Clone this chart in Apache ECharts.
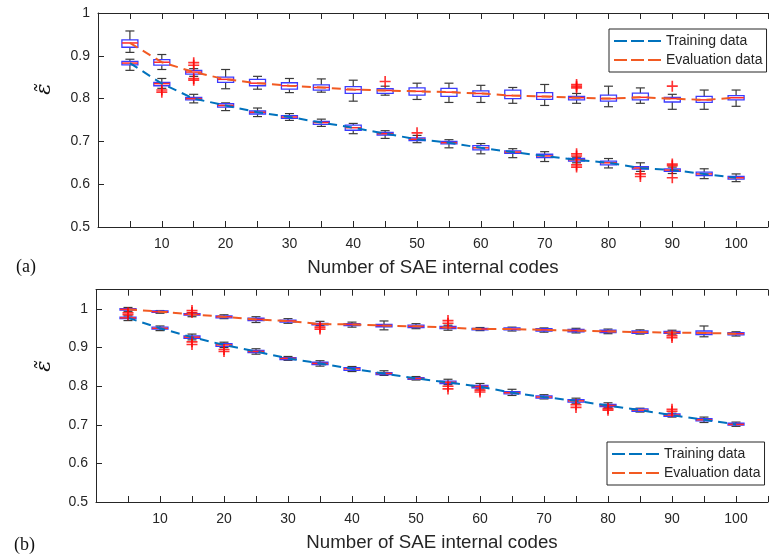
<!DOCTYPE html>
<html>
<head>
<meta charset="utf-8">
<script src="https://cdn.jsdelivr.net/npm/echarts@6/dist/echarts.min.js"></script>
<style>
  html, body { margin: 0; padding: 0; background: #fff; }
  #chart { width: 771px; height: 558px; }
</style>
</head>
<body>
<div id="chart"></div>
<script>
// Number of SAE internal codes (box positions)
const codes = [5, 10, 15, 20, 25, 30, 35, 40, 45, 50, 55, 60, 65, 70, 75, 80, 85, 90, 95, 100];
const xTickLabels = ['10', '20', '30', '40', '50', '60', '70', '80', '90', '100'];
const yTickLabels = ['0.5', '0.6', '0.7', '0.8', '0.9', '1'];

// ---- Panel (a): training data box statistics ----
const trainA_low = [0.866, 0.824, 0.790, 0.772, 0.758, 0.749, 0.735, 0.718, 0.707, 0.697, 0.685, 0.671, 0.662, 0.653, 0.650, 0.638, 0.630, 0.625, 0.613, 0.606];
const trainA_q1  = [0.879, 0.830, 0.797, 0.780, 0.764, 0.754, 0.740, 0.726, 0.715, 0.702, 0.694, 0.680, 0.672, 0.662, 0.654, 0.645, 0.635, 0.630, 0.620, 0.612];
const trainA_med = [0.883, 0.835, 0.800, 0.784, 0.768, 0.757, 0.744, 0.732, 0.718, 0.705, 0.697, 0.685, 0.675, 0.666, 0.657, 0.650, 0.638, 0.633, 0.624, 0.615];
const trainA_q3  = [0.887, 0.838, 0.803, 0.788, 0.771, 0.760, 0.747, 0.738, 0.721, 0.708, 0.700, 0.690, 0.678, 0.670, 0.660, 0.654, 0.641, 0.636, 0.628, 0.618];
const trainA_high= [0.892, 0.847, 0.810, 0.790, 0.778, 0.765, 0.752, 0.742, 0.725, 0.714, 0.704, 0.695, 0.683, 0.676, 0.663, 0.660, 0.650, 0.640, 0.636, 0.624];
const trainA_out = [[10, 0.820], [10, 0.815], [50, 0.720], [75, 0.671], [75, 0.666], [75, 0.645], [75, 0.640], [85, 0.624], [85, 0.618], [90, 0.647], [90, 0.643], [90, 0.615]];

// ---- Panel (a): evaluation data box statistics ----
const evalA_low = [0.908, 0.868, 0.852, 0.823, 0.822, 0.814, 0.815, 0.794, 0.808, 0.798, 0.791, 0.791, 0.789, 0.784, 0.789, 0.781, 0.789, 0.775, 0.775, 0.782];
const evalA_q1  = [0.920, 0.878, 0.857, 0.838, 0.830, 0.822, 0.820, 0.812, 0.812, 0.808, 0.805, 0.805, 0.800, 0.798, 0.797, 0.794, 0.797, 0.792, 0.791, 0.797];
const evalA_med = [0.930, 0.885, 0.862, 0.845, 0.836, 0.830, 0.826, 0.821, 0.819, 0.817, 0.815, 0.812, 0.807, 0.805, 0.802, 0.800, 0.803, 0.800, 0.797, 0.802];
const evalA_q3  = [0.937, 0.891, 0.866, 0.850, 0.845, 0.837, 0.832, 0.828, 0.823, 0.825, 0.824, 0.818, 0.820, 0.814, 0.805, 0.808, 0.813, 0.803, 0.805, 0.807];
const evalA_high= [0.958, 0.903, 0.870, 0.868, 0.852, 0.847, 0.846, 0.843, 0.829, 0.836, 0.836, 0.831, 0.826, 0.833, 0.812, 0.829, 0.825, 0.810, 0.820, 0.820];
const evalA_out = [[15, 0.884], [15, 0.878], [15, 0.847], [15, 0.843], [45, 0.840], [75, 0.833], [75, 0.829], [75, 0.825], [90, 0.829]];

// ---- Panel (b): training data box statistics ----
const trainB_low = [0.970, 0.944, 0.920, 0.900, 0.883, 0.867, 0.852, 0.838, 0.828, 0.816, 0.804, 0.793, 0.776, 0.767, 0.756, 0.744, 0.733, 0.720, 0.706, 0.696];
const trainB_q1  = [0.975, 0.948, 0.924, 0.903, 0.887, 0.869, 0.856, 0.841, 0.830, 0.818, 0.807, 0.796, 0.780, 0.769, 0.759, 0.747, 0.735, 0.722, 0.710, 0.699];
const trainB_med = [0.977, 0.950, 0.927, 0.907, 0.890, 0.872, 0.859, 0.845, 0.833, 0.820, 0.810, 0.799, 0.783, 0.772, 0.762, 0.750, 0.738, 0.725, 0.713, 0.701];
const trainB_q3  = [0.979, 0.953, 0.930, 0.910, 0.893, 0.874, 0.862, 0.848, 0.835, 0.822, 0.813, 0.802, 0.786, 0.775, 0.765, 0.753, 0.741, 0.728, 0.716, 0.704];
const trainB_high= [0.982, 0.956, 0.935, 0.914, 0.897, 0.877, 0.866, 0.851, 0.840, 0.825, 0.818, 0.807, 0.792, 0.778, 0.769, 0.757, 0.743, 0.730, 0.720, 0.707];
const trainB_out = [[15, 0.915], [15, 0.908], [20, 0.895], [20, 0.890], [55, 0.800], [55, 0.793], [60, 0.790], [60, 0.785], [75, 0.752], [75, 0.745], [80, 0.742], [80, 0.738], [90, 0.740], [90, 0.735]];

// ---- Panel (b): evaluation data box statistics ----
const evalB_low = [0.994, 0.989, 0.980, 0.975, 0.965, 0.963, 0.957, 0.953, 0.946, 0.949, 0.945, 0.944, 0.943, 0.940, 0.938, 0.936, 0.935, 0.935, 0.928, 0.930];
const evalB_q1  = [0.997, 0.991, 0.984, 0.977, 0.970, 0.966, 0.959, 0.957, 0.954, 0.952, 0.949, 0.946, 0.946, 0.943, 0.941, 0.939, 0.937, 0.937, 0.934, 0.933];
const evalB_med = [0.999, 0.993, 0.986, 0.980, 0.973, 0.969, 0.961, 0.960, 0.957, 0.955, 0.952, 0.948, 0.948, 0.946, 0.944, 0.942, 0.940, 0.939, 0.938, 0.936];
const evalB_q3  = [1.001, 0.995, 0.988, 0.982, 0.976, 0.971, 0.963, 0.962, 0.960, 0.958, 0.955, 0.950, 0.951, 0.949, 0.947, 0.945, 0.943, 0.942, 0.943, 0.939];
const evalB_high= [1.004, 0.996, 0.990, 0.985, 0.980, 0.975, 0.968, 0.966, 0.969, 0.962, 0.958, 0.952, 0.953, 0.951, 0.950, 0.948, 0.946, 0.945, 0.956, 0.941];
const evalB_out = [[5, 0.990], [5, 0.985], [15, 0.996], [15, 0.991], [35, 0.953], [35, 0.948], [55, 0.970], [55, 0.963], [90, 0.931], [90, 0.926]];

const TRAIN_COLOR = '#0072BD';
const EVAL_COLOR = '#F25A22';
const AXIS_COLOR = '#262626';
const FONT = 'Liberation Sans';

function boxRows(low, q1, med, q3, high) {
  return codes.map((c, i) => [c, low[i], q1[i], med[i], q3[i], high[i]]);
}
function medianLine(med) {
  return codes.map((c, i) => [c, med[i]]);
}

// Box-and-whisker glyph: dark whiskers with caps, blue box, red median
function renderBox(params, api) {
  const x = api.value(0);
  const lo = api.coord([x, api.value(1)]);
  const q1 = api.coord([x, api.value(2)]);
  const md = api.coord([x, api.value(3)]);
  const q3 = api.coord([x, api.value(4)]);
  const hi = api.coord([x, api.value(5)]);
  const cx = md[0];
  const hw = 8, cw = 4.5;
  const wStyle = { stroke: '#3a3a3a', lineWidth: 1.2 };
  return {
    type: 'group',
    children: [
      { type: 'line', shape: { x1: cx, y1: q3[1], x2: cx, y2: hi[1] }, style: wStyle },
      { type: 'line', shape: { x1: cx, y1: q1[1], x2: cx, y2: lo[1] }, style: wStyle },
      { type: 'line', shape: { x1: cx - cw, y1: hi[1], x2: cx + cw, y2: hi[1] }, style: wStyle },
      { type: 'line', shape: { x1: cx - cw, y1: lo[1], x2: cx + cw, y2: lo[1] }, style: wStyle },
      { type: 'rect', shape: { x: cx - hw, y: q3[1], width: 2 * hw, height: q1[1] - q3[1] },
        style: { fill: '#ffffff', stroke: '#3b3bff', lineWidth: 1.3 } },
      { type: 'line', shape: { x1: cx - hw, y1: md[1], x2: cx + hw, y2: md[1] },
        style: { stroke: '#ff2a2a', lineWidth: 1.5 } }
    ]
  };
}

const PLUS = 'path://M4.25,0H5.75V4.25H10V5.75H5.75V10H4.25V5.75H0V4.25H4.25Z';

function xAxes(gridIndex) {
  const base = {
    type: 'value', gridIndex, min: 0, max: 105, interval: 5,
    splitLine: { show: false },
    axisLine: { lineStyle: { color: AXIS_COLOR, width: 1 } },
    axisTick: { inside: true, length: 6, lineStyle: { color: AXIS_COLOR } }
  };
  return [
    Object.assign({}, base, {
      position: 'bottom',
      name: 'Number of SAE internal codes',
      nameLocation: 'middle', nameGap: 31,
      nameTextStyle: { fontFamily: FONT, fontSize: 18.7, color: AXIS_COLOR },
      axisLabel: {
        margin: 10, fontFamily: FONT, fontSize: 14, color: AXIS_COLOR,
        formatter: v => (xTickLabels.indexOf(String(v)) >= 0 ? String(v) : '')
      }
    }),
    Object.assign({}, base, { position: 'top', axisLabel: { show: false } })
  ];
}

function yAxis(gridIndex, max) {
  return {
    type: 'value', gridIndex, min: 0.5, max, interval: 0.1,
    splitLine: { show: false },
    axisLine: { lineStyle: { color: AXIS_COLOR, width: 1 } },
    axisTick: { inside: true, length: 6, lineStyle: { color: AXIS_COLOR } },
    axisLabel: {
      margin: 8, fontFamily: FONT, fontSize: 14, color: AXIS_COLOR, showMaxLabel: max <= 1,
      formatter: v => {
        const s = String(Math.round(v * 10) / 10);
        return yTickLabels.indexOf(s) >= 0 ? s : '';
      }
    }
  };
}

function panelSeries(xi, yi, trainBoxes, evalBoxes, trainMed, evalMed, trainOut, evalOut) {
  return [
    { type: 'custom', xAxisIndex: xi, yAxisIndex: yi, renderItem: renderBox, data: trainBoxes, z: 2,
      encode: { x: 0, y: [1, 2, 3, 4, 5] }, silent: true },
    { type: 'custom', xAxisIndex: xi, yAxisIndex: yi, renderItem: renderBox, data: evalBoxes, z: 2,
      encode: { x: 0, y: [1, 2, 3, 4, 5] }, silent: true },
    { name: 'Training data', type: 'line', xAxisIndex: xi, yAxisIndex: yi, data: trainMed, symbol: 'none', z: 3,
      color: TRAIN_COLOR, lineStyle: { color: TRAIN_COLOR, width: 2, type: [9, 6] } },
    { name: 'Evaluation data', type: 'line', xAxisIndex: xi, yAxisIndex: yi, data: evalMed, symbol: 'none', z: 3,
      color: EVAL_COLOR, lineStyle: { color: EVAL_COLOR, width: 2, type: [9, 6] } },
    { type: 'scatter', xAxisIndex: xi, yAxisIndex: yi, data: trainOut.concat(evalOut), symbol: PLUS,
      symbolSize: 11, itemStyle: { color: '#ff0000' }, z: 4, silent: true }
  ];
}

function legendAt(left, top) {
  return {
    left, top, orient: 'vertical', data: ['Training data', 'Evaluation data'],
    itemWidth: 47, itemHeight: 14, itemGap: 5,
    padding: [5, 4, 5, 4],
    itemStyle: { opacity: 0 },
    lineStyle: { width: 2, type: [13, 4] },
    backgroundColor: '#ffffff', borderColor: AXIS_COLOR, borderWidth: 1, borderRadius: 0,
    textStyle: { fontFamily: FONT, fontSize: 14, color: AXIS_COLOR },
    selectedMode: false
  };
}

const chart = echarts.init(document.getElementById('chart'), null, { renderer: 'canvas' });
chart.setOption({
  animation: false,
  backgroundColor: '#ffffff',
  grid: [
    { left: 98, top: 13, width: 682.5, height: 214 },
    { left: 96, top: 289.7, width: 682.5, height: 212.3 }
  ],
  xAxis: xAxes(0).concat(xAxes(1)),
  yAxis: [yAxis(0, 1), yAxis(1, 1.05)],
  legend: [legendAt(609, 29), legendAt(607, 442)],
  graphic: [
    { type: 'text', left: 16, top: 258, style: { text: '(a)', font: '18px "Liberation Serif"', fill: '#111' } },
    { type: 'text', left: 14, top: 536, style: { text: '(b)', font: '18px "Liberation Serif"', fill: '#111' } },
    { type: 'text', x: 45, y: 89, rotation: Math.PI / 2,
      style: { text: 'ε\u0303', font: 'italic 21px "DejaVu Serif"', fill: '#111', align: 'center', verticalAlign: 'middle' } },
    { type: 'text', x: 45, y: 366, rotation: Math.PI / 2,
      style: { text: 'ε\u0303', font: 'italic 21px "DejaVu Serif"', fill: '#111', align: 'center', verticalAlign: 'middle' } }
  ],
  series: [].concat(
    panelSeries(0, 0, boxRows(trainA_low, trainA_q1, trainA_med, trainA_q3, trainA_high),
      boxRows(evalA_low, evalA_q1, evalA_med, evalA_q3, evalA_high),
      medianLine(trainA_med), medianLine(evalA_med), trainA_out, evalA_out),
    panelSeries(2, 1, boxRows(trainB_low, trainB_q1, trainB_med, trainB_q3, trainB_high),
      boxRows(evalB_low, evalB_q1, evalB_med, evalB_q3, evalB_high),
      medianLine(trainB_med), medianLine(evalB_med), trainB_out, evalB_out)
  )
});
</script>
</body>
</html>
